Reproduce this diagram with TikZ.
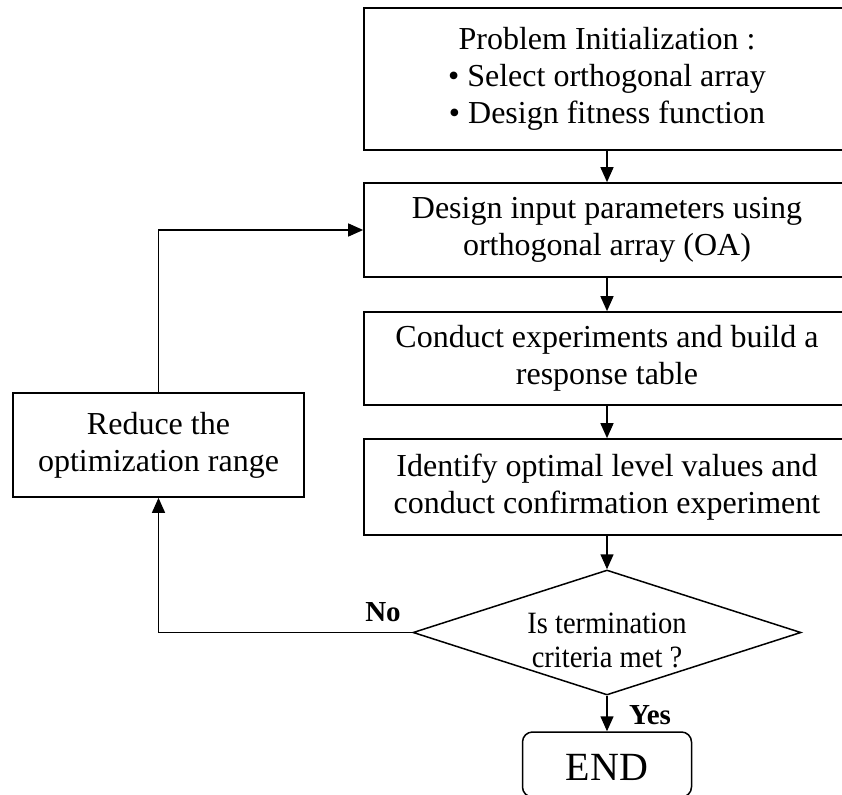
\documentclass[tikz,border=0pt]{standalone}
\usepackage{fontspec}
\setmainfont{Liberation Serif}
\usetikzlibrary{shapes.geometric,arrows.meta}
\begin{document}
\begin{tikzpicture}[x=1pt,y=-1pt,
  box/.style={draw, line width=1.7pt, inner sep=0pt, align=center,
              font=\fontsize{32}{37}\selectfont},
  flow/.style={line width=1.5pt, -{Triangle[length=15pt,width=13pt]}},
  lbl/.style={inner sep=0pt, font=\fontsize{29}{34}\selectfont\bfseries}]
\useasboundingbox (0,0) rectangle (842,794);
\fill[white] (0,0) rectangle (842,794);

% main column of process boxes
\node[box, minimum width=486pt, minimum height=142pt] (init) at (607,79)
  {Problem Initialization :\\ \textbullet\ Select orthogonal array\\ \textbullet\ Design fitness function};
\node[box, minimum width=486pt, minimum height=94pt] (design) at (607,230)
  {Design input parameters using\\ orthogonal array (OA)};
\node[box, minimum width=486pt, minimum height=93pt] (conduct) at (607,358.5)
  {Conduct experiments and build a\\ response table};
\node[box, minimum width=486pt, minimum height=96pt] (ident) at (607,487)
  {Identify optimal level values and\\ conduct confirmation experiment};

% side box for the loop back
\node[box, minimum width=291pt, minimum height=104pt] (reduce) at (158.5,445)
  {Reduce the\\ optimization range};

% decision
\node[draw, diamond, line width=1.5pt, inner sep=0pt, aspect=3.1,
      minimum width=388pt, minimum height=125pt] (dec) at (607,632.5) {};
\node[align=center, inner sep=0pt, xscale=0.92, font=\fontsize{31}{34}\selectfont] (dectext) at (607,640)
  {Is termination\\ criteria met ?};

% terminal
\node[draw, line width=1.5pt, rounded corners=10pt, minimum width=169pt, minimum height=65pt,
      inner sep=0pt] (end) at (607,764.5) {};
\node[inner sep=0pt, font=\fontsize{40}{44}\selectfont] (endtext) at (607,767) {END};

% connectors
\draw[flow] (init.south) -- (design.north);
\draw[flow] (design.south) -- (conduct.north);
\draw[flow] (conduct.south) -- (ident.north);
\draw[flow] (ident.south) -- (dec.north);
\draw[flow] (dec.south) -- (end.north);
\draw[flow] (dec.west) -| (reduce.south);
\draw[flow] (reduce.north) |- (design.west);

% branch labels
\node[lbl] (no) at (383,612) {No};
\node[lbl] (yes) at (650,715) {Yes};
\end{tikzpicture}
\end{document}
